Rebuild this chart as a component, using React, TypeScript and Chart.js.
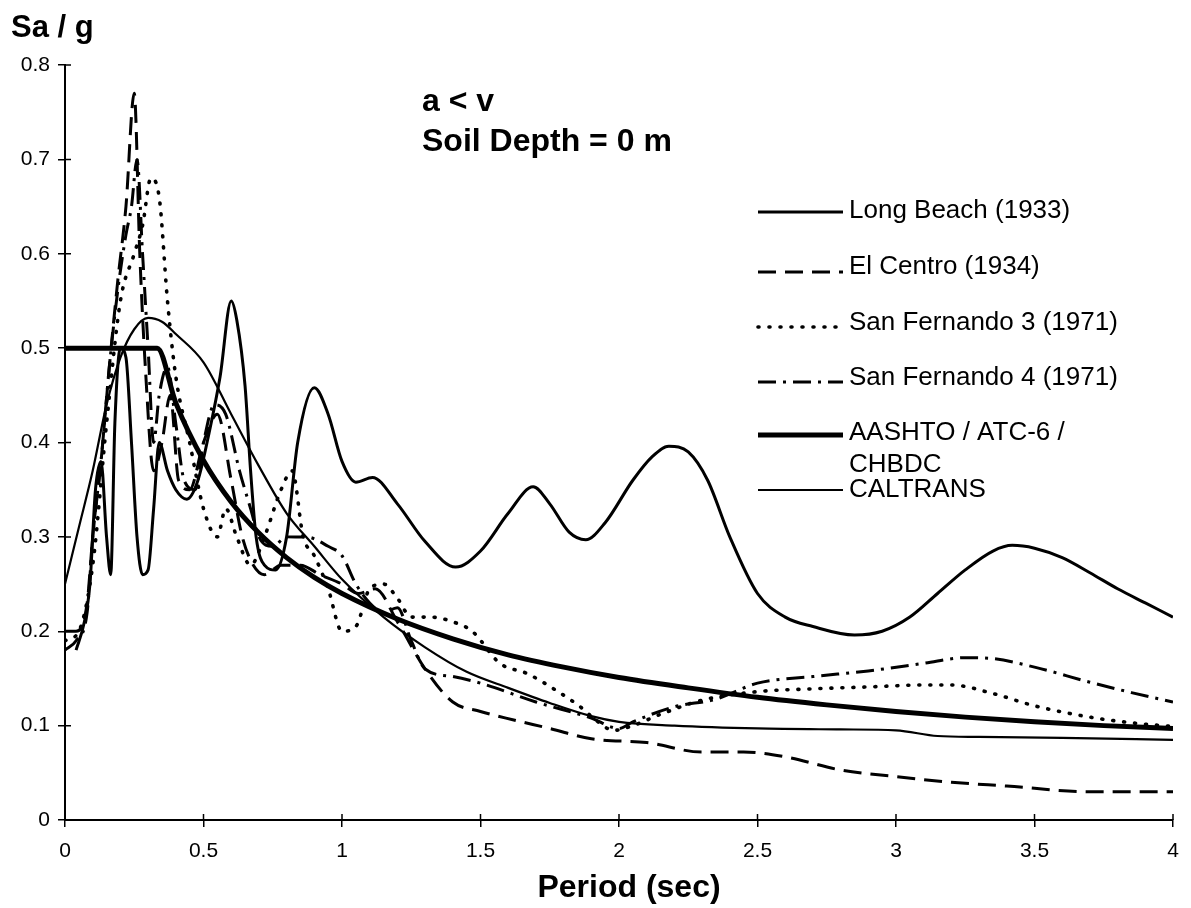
import React, { useEffect, useRef } from "react";
import { Chart, registerables } from "chart.js";

Chart.register(...registerables);

const FONT = "Arial, 'Liberation Sans', Helvetica, sans-serif";

// Axis ranges / tick steps
const periodRange = [0, 4];
const periodStep = 0.5;
const saRange = [0, 0.8];
const saStep = 0.1;

// Long Beach (1933)
const longBeachT = [0.04, 0.07, 0.09, 0.11, 0.13, 0.15, 0.165, 0.18, 0.2, 0.22, 0.24, 0.26, 0.28, 0.3, 0.32, 0.34, 0.37, 0.4, 0.44, 0.48, 0.52, 0.56, 0.6, 0.62, 0.65, 0.67, 0.69, 0.72, 0.76, 0.8, 0.84, 0.9, 0.95, 1.0, 1.05, 1.11, 1.2, 1.3, 1.41, 1.5, 1.6, 1.69, 1.75, 1.82, 1.88, 1.95, 2.05, 2.12, 2.18, 2.25, 2.32, 2.4, 2.5, 2.6, 2.7, 2.85, 2.95, 3.05, 3.15, 3.25, 3.35, 3.42, 3.5, 3.6, 3.7, 3.8, 3.9, 4.0];
const longBeachSa = [0.18, 0.21, 0.25, 0.35, 0.38, 0.3, 0.26, 0.42, 0.5, 0.49, 0.4, 0.3, 0.26, 0.265, 0.33, 0.4, 0.37, 0.35, 0.34, 0.36, 0.41, 0.47, 0.55, 0.53, 0.46, 0.37, 0.3, 0.27, 0.265, 0.3, 0.4, 0.458, 0.43, 0.38, 0.358, 0.363, 0.335, 0.295, 0.268, 0.285, 0.325, 0.353, 0.335, 0.305, 0.297, 0.315, 0.36, 0.385, 0.396, 0.39, 0.36, 0.3, 0.24, 0.215, 0.205, 0.196, 0.2, 0.215, 0.24, 0.265, 0.285, 0.291, 0.288, 0.278, 0.262, 0.245, 0.23, 0.215];

// El Centro (1934)
const elCentroT = [0, 0.04, 0.08, 0.1, 0.13, 0.16, 0.19, 0.22, 0.25, 0.27, 0.29, 0.32, 0.35, 0.38, 0.41, 0.45, 0.5, 0.55, 0.6, 0.64, 0.68, 0.72, 0.78, 0.85, 0.92, 1.0, 1.06, 1.12, 1.2, 1.3, 1.4, 1.5, 1.62, 1.75, 1.9, 2.1, 2.3, 2.45, 2.6, 2.8, 3.0, 3.2, 3.4, 3.7, 4.0];
const elCentroSa = [0.2, 0.2, 0.23, 0.3, 0.38, 0.48, 0.57, 0.65, 0.77, 0.6, 0.48, 0.37, 0.4, 0.45, 0.36, 0.35, 0.4, 0.43, 0.36, 0.3, 0.27, 0.26, 0.27, 0.27, 0.26, 0.25, 0.24, 0.245, 0.21, 0.16, 0.125, 0.115, 0.106, 0.097, 0.086, 0.082, 0.072, 0.072, 0.067, 0.053, 0.046, 0.04, 0.036, 0.03, 0.03];

// San Fernando 3 (1971)
const sanFernando3T = [0, 0.05, 0.1, 0.15, 0.2, 0.25, 0.28, 0.31, 0.34, 0.37, 0.4, 0.45, 0.5, 0.55, 0.58, 0.62, 0.67, 0.72, 0.78, 0.82, 0.86, 0.9, 0.95, 1.0, 1.05, 1.1, 1.15, 1.2, 1.25, 1.32, 1.4, 1.47, 1.57, 1.67, 1.78, 1.86, 1.92, 1.98, 2.05, 2.15, 2.3, 2.5, 2.7, 2.9, 3.1, 3.2, 3.35, 3.5, 3.7, 3.85, 4.0];
const sanFernando3Sa = [0.19, 0.2, 0.27, 0.42, 0.55, 0.6, 0.63, 0.68, 0.66, 0.55, 0.47, 0.4, 0.33, 0.3, 0.33, 0.3, 0.27, 0.3, 0.35, 0.37, 0.3, 0.28, 0.245, 0.2, 0.205, 0.245, 0.25, 0.235, 0.215, 0.215, 0.21, 0.2, 0.166, 0.155, 0.136, 0.12, 0.105, 0.095, 0.1, 0.112, 0.127, 0.136, 0.139, 0.141, 0.143, 0.143, 0.134, 0.121, 0.109, 0.103, 0.099];

// San Fernando 4 (1971)
const sanFernando4T = [0, 0.04, 0.08, 0.1, 0.13, 0.16, 0.19, 0.22, 0.24, 0.26, 0.28, 0.3, 0.32, 0.34, 0.37, 0.4, 0.43, 0.47, 0.5, 0.54, 0.58, 0.63, 0.67, 0.7, 0.75, 0.8, 0.87, 0.95, 1.0, 1.05, 1.1, 1.15, 1.2, 1.25, 1.3, 1.4, 1.5, 1.7, 1.9, 2.0, 2.05, 2.2, 2.35, 2.5, 2.7, 2.9, 3.1, 3.25, 3.35, 3.5, 3.7, 3.85, 4.0];
const sanFernando4Sa = [0.18, 0.19, 0.22, 0.3, 0.38, 0.48, 0.56, 0.62, 0.65, 0.7, 0.6, 0.5, 0.4, 0.45, 0.48, 0.42, 0.36, 0.35, 0.4, 0.44, 0.43, 0.37, 0.33, 0.3, 0.29, 0.3, 0.3, 0.29, 0.28, 0.25, 0.23, 0.22, 0.225, 0.19, 0.16, 0.152, 0.145, 0.125, 0.108, 0.097, 0.104, 0.12, 0.128, 0.145, 0.152, 0.158, 0.166, 0.172, 0.171, 0.162, 0.146, 0.135, 0.125];

// AASHTO / ATC-6 / CHBDC design spectrum
const aashtoT = [0, 0.333, 0.4, 0.5, 0.6, 0.7, 0.8, 0.9, 1.0, 1.2, 1.4, 1.6, 1.8, 2.0, 2.25, 2.5, 2.75, 3.0, 3.25, 3.5, 3.75, 4.0];
const aashtoSa = [0.5, 0.5, 0.442, 0.381, 0.337, 0.304, 0.278, 0.257, 0.24, 0.213, 0.192, 0.175, 0.162, 0.151, 0.14, 0.13, 0.122, 0.115, 0.109, 0.104, 0.1, 0.097];

// CALTRANS design spectrum
const caltransT = [0, 0.05, 0.1, 0.15, 0.2, 0.25, 0.3, 0.35, 0.4, 0.5, 0.6, 0.7, 0.8, 0.9, 1.0, 1.15, 1.3, 1.45, 1.6, 1.75, 1.9, 2.0, 2.2, 2.5, 2.8, 3.0, 3.15, 3.3, 3.6, 4.0];
const caltransSa = [0.25, 0.31, 0.37, 0.44, 0.49, 0.52, 0.532, 0.528, 0.515, 0.485, 0.43, 0.375, 0.325, 0.29, 0.255, 0.215, 0.183, 0.157, 0.14, 0.124, 0.11, 0.104, 0.1, 0.097, 0.096, 0.095, 0.089, 0.088, 0.087, 0.085];

const seriesLabels = [
  "Long Beach (1933)",
  "El Centro (1934)",
  "San Fernando 3 (1971)",
  "San Fernando 4 (1971)",
  "AASHTO / ATC-6 /\nCHBDC",
  "CALTRANS",
];

const yTitle = "Sa / g";
const xTitle = "Period (sec)";
const noteLines = ["a < v", "Soil Depth = 0 m"];

const toPoints = (t: number[], v: number[]) => t.map((x, i) => ({ x, y: v[i] }));

const fmt = (v: number) => (v === 0 ? "0" : String(Math.round(v * 10) / 10));

// Crossing tick marks on both axes (inner half; outer half comes from grid ticks)
const innerTicks = {
  id: "innerTicks",
  afterDraw(chart: any) {
    const { ctx, chartArea, scales } = chart;
    ctx.save();
    ctx.strokeStyle = "#000";
    ctx.lineWidth = 1.5;
    ctx.beginPath();
    scales.x.ticks.forEach((t: any) => {
      const px = scales.x.getPixelForValue(t.value);
      ctx.moveTo(px, chartArea.bottom);
      ctx.lineTo(px, chartArea.bottom - 6);
    });
    scales.y.ticks.forEach((t: any) => {
      const py = scales.y.getPixelForValue(t.value);
      ctx.moveTo(chartArea.left, py);
      ctx.lineTo(chartArea.left + 6, py);
    });
    ctx.stroke();
    ctx.restore();
  },
};

// Axis titles, annotation and right-hand legend
const annotations = {
  id: "annotations",
  afterDraw(chart: any) {
    const { ctx } = chart;
    ctx.save();
    ctx.fillStyle = "#000";
    ctx.textAlign = "left";
    ctx.textBaseline = "alphabetic";

    ctx.font = `bold 31px ${FONT}`;
    ctx.fillText(yTitle, 11, 37);

    ctx.font = `bold 32px ${FONT}`;
    ctx.fillText(noteLines[0], 422, 111);
    ctx.fillText(noteLines[1], 422, 151);

    ctx.textAlign = "center";
    ctx.font = `bold 32px ${FONT}`;
    ctx.fillText(xTitle, 629, 897);
    ctx.textAlign = "left";

    // legend
    const lineY = [212, 272, 327, 382, 435, 490];
    const textY = [218, 274, 330, 385, 440, 497];
    ctx.font = `26px ${FONT}`;
    chart.data.datasets.forEach((ds: any, i: number) => {
      ctx.save();
      ctx.strokeStyle = "#000";
      ctx.lineWidth = ds.borderWidth;
      ctx.lineCap = ds.borderCapStyle || "butt";
      ctx.setLineDash(ds.borderDash || []);
      ctx.beginPath();
      ctx.moveTo(758, lineY[i]);
      ctx.lineTo(843, lineY[i]);
      ctx.stroke();
      ctx.restore();
      const parts = String(ds.label).split("\n");
      parts.forEach((p, k) => ctx.fillText(p, 849, textY[i] + k * 32));
    });
    ctx.restore();
  },
};

export default function App() {
  const ref = useRef<HTMLCanvasElement | null>(null);

  useEffect(() => {
    if (!ref.current) return;
    const common = {
      pointRadius: 0,
      pointHoverRadius: 0,
      fill: false,
      cubicInterpolationMode: "monotone" as const,
      borderColor: "#000",
      backgroundColor: "#000",
    };
    const chart = new Chart(ref.current, {
      type: "line",
      data: {
        datasets: [
          { ...common, label: seriesLabels[0], data: toPoints(longBeachT, longBeachSa), borderWidth: 3 },
          { ...common, label: seriesLabels[1], data: toPoints(elCentroT, elCentroSa), borderWidth: 3, borderDash: [18, 9] },
          { ...common, label: seriesLabels[2], data: toPoints(sanFernando3T, sanFernando3Sa), borderWidth: 3.6, borderDash: [1, 10], borderCapStyle: "round" },
          { ...common, label: seriesLabels[3], data: toPoints(sanFernando4T, sanFernando4Sa), borderWidth: 3, borderDash: [18, 7, 3, 7] },
          { ...common, label: seriesLabels[4], data: toPoints(aashtoT, aashtoSa), borderWidth: 5 },
          { ...common, label: seriesLabels[5], data: toPoints(caltransT, caltransSa), borderWidth: 2.2 },
        ],
      },
      options: {
        animation: false,
        responsive: false,
        events: [],
        layout: { padding: { left: 10, right: 18, top: 65, bottom: 0 } },
        plugins: { legend: { display: false }, tooltip: { enabled: false }, title: { display: false } },
        scales: {
          x: {
            type: "linear",
            min: periodRange[0],
            max: periodRange[1],
            afterFit: (s: any) => { s.height = 88; },
            ticks: {
              stepSize: periodStep,
              color: "#000",
              padding: 12,
              font: { family: FONT, size: 21 },
              callback: (v: any) => fmt(Number(v)),
            },
            grid: { display: true, drawOnChartArea: false, drawTicks: true, tickLength: 7, color: "#000", lineWidth: 1.5 },
            border: { display: true, color: "#000", width: 2 },
            title: { display: false },
          },
          y: {
            type: "linear",
            min: saRange[0],
            max: saRange[1],
            afterFit: (s: any) => { s.width = 55; },
            ticks: {
              stepSize: saStep,
              color: "#000",
              padding: 8,
              font: { family: FONT, size: 21 },
              callback: (v: any) => fmt(Number(v)),
            },
            grid: { display: true, drawOnChartArea: false, drawTicks: true, tickLength: 7, color: "#000", lineWidth: 1.5 },
            border: { display: true, color: "#000", width: 2 },
          },
        },
      },
      plugins: [innerTicks, annotations],
    });
    return () => chart.destroy();
  }, []);

  return (
    <div style={{ position: "absolute", left: 0, top: 0, width: 1191, height: 908, background: "#fff" }}>
      <canvas ref={ref} width={1191} height={908} style={{ display: "block" }} />
    </div>
  );
}
